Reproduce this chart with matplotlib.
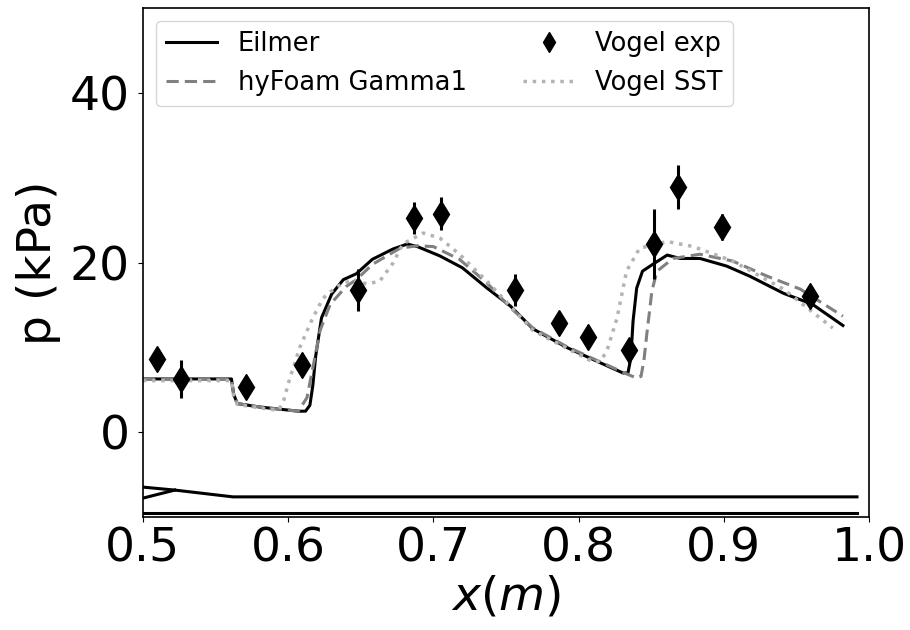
import numpy as np
import matplotlib
matplotlib.use("Agg")
import matplotlib.pyplot as plt

# Vogel experiment (x [m], p [kPa], error [kPa])
exp_x = [0.5096, 0.526, 0.571, 0.6095, 0.648, 0.6866, 0.705, 0.756,
         0.7865, 0.8065, 0.8347, 0.852, 0.8685, 0.8988, 0.959]
exp_p = [8.7, 6.3, 5.3, 8.0, 16.8, 25.3, 25.8, 16.8,
         12.9, 11.3, 9.7, 22.2, 28.9, 24.2, 16.1]
exp_err = [1.3, 2.2, 0.0, 1.3, 2.5, 1.9, 2.0, 1.9,
           1.3, 0.0, 1.4, 4.1, 2.6, 1.5, 0.0]

# Eilmer
eil_x = [0.5, 0.561, 0.5625, 0.565, 0.58, 0.607, 0.612, 0.615, 0.617, 0.619, 0.623,
         0.630, 0.638, 0.647, 0.658, 0.672, 0.682, 0.689, 0.7045, 0.720,
         0.737, 0.753, 0.7686, 0.792, 0.815, 0.8306, 0.834, 0.836, 0.8375,
         0.840, 0.844, 0.851, 0.861, 0.870, 0.8836, 0.902, 0.918, 0.941,
         0.961, 0.982]
eil_p = [6.3, 6.3, 4.5, 3.4, 3.0, 2.5, 2.5, 3.2, 5.5, 9.0, 13.5,
         16.3, 18.0, 18.7, 20.4, 21.6, 22.2, 21.9, 20.8, 19.4,
         17.0, 14.9, 12.2, 10.0, 8.2, 7.0, 7.0, 8.8, 13.1,
         17.0, 19.0, 19.8, 20.9, 20.5, 20.5, 19.6, 18.4, 16.4,
         15.1, 12.6]

# hyFoam Gamma1
hy_x = [0.5, 0.561, 0.5625, 0.565, 0.58, 0.607, 0.613, 0.617, 0.622, 0.629,
        0.640, 0.647, 0.658, 0.677, 0.689, 0.700, 0.718, 0.737, 0.753,
        0.7686, 0.792, 0.815, 0.833, 0.840, 0.843, 0.845, 0.847, 0.8505,
        0.854, 0.865, 0.8836, 0.906, 0.930, 0.9525, 0.982]
hy_p = [6.3, 6.3, 4.5, 3.4, 3.0, 2.5, 4.1, 7.6, 12.0, 15.1,
        17.2, 18.0, 19.8, 21.7, 22.0, 21.9, 20.4, 17.6, 14.7,
        12.3, 10.1, 8.3, 6.9, 6.4, 6.6, 8.5, 11.6, 16.7,
        19.0, 20.5, 21.0, 20.2, 18.4, 16.9, 13.7]

# Vogel SST
sst_x = [0.5, 0.561, 0.5625, 0.565, 0.58, 0.593, 0.5964, 0.600, 0.608, 0.617,
         0.624, 0.6336, 0.6446, 0.654, 0.663, 0.672, 0.679, 0.693, 0.7045,
         0.718, 0.737, 0.753, 0.7686, 0.792, 0.81, 0.815, 0.8195, 0.8265,
         0.833, 0.842, 0.861, 0.879, 0.906, 0.941, 0.975]
sst_p = [6.1, 6.1, 4.3, 3.3, 2.9, 2.6, 3.4, 5.7, 10.0, 13.5,
         15.8, 17.2, 18.0, 17.5, 17.8, 19.9, 22.2, 23.5, 22.9,
         21.0, 17.8, 14.9, 12.0, 9.9, 8.3, 8.4, 9.6, 13.5,
         19.0, 21.7, 22.5, 21.9, 20.2, 16.9, 12.3]

# geometry outline (scaled, drawn under the data)
geo_top_x = [0.5, 0.522, 0.562, 0.9917]
geo_top_y = [-6.45, -6.8, -7.6, -7.6]
geo_low_x = [0.5, 0.522]
geo_low_y = [-7.75, -6.8]
geo_base_x = [0.5, 0.9917]
geo_base_y = [-9.45, -9.45]

fig, ax = plt.subplots(figsize=(9.1, 6.3), dpi=100)

l1, = ax.plot(eil_x, eil_p, color='black', lw=2.2, label='Eilmer')
l2, = ax.plot(hy_x, hy_p, color='0.5', ls='--', lw=2.2, dashes=(4, 2), label='hyFoam Gamma1')
l4, = ax.plot(sst_x, sst_p, color='0.7', ls=':', lw=2.5, label='Vogel SST')
ax.errorbar(exp_x, exp_p, yerr=exp_err, fmt='none', ecolor='black',
            elinewidth=2.2, capsize=0, zorder=4)
l3, = ax.plot(exp_x, exp_p, 'd', color='black', ms=13, label='Vogel exp', zorder=5)

ax.plot(geo_top_x, geo_top_y, color='black', lw=2.2)
ax.plot(geo_low_x, geo_low_y, color='black', lw=2.2)
ax.plot(geo_base_x, geo_base_y, color='black', lw=2.2)

ax.set_xlim(0.5, 1.0)
ax.set_ylim(-10, 50)
ax.set_xticks([0.5, 0.6, 0.7, 0.8, 0.9, 1.0])
ax.set_yticks([0, 20, 40])
ax.tick_params(labelsize=34)
ax.tick_params(axis='y', pad=6)
ax.set_xlabel('$x(m)$', fontsize=34, labelpad=2)
ax.set_ylabel('p (kPa)', fontsize=34, labelpad=6)
for s in ax.spines.values():
    s.set_linewidth(1.2)

ax.legend([l1, l2, l3, l4], ['Eilmer', 'hyFoam Gamma1', 'Vogel exp', 'Vogel SST'],
          loc='upper left', ncol=2, fontsize=18.5, columnspacing=2.2, markerscale=0.8)

plt.subplots_adjust(left=0.157, right=0.955, top=0.987, bottom=0.179)
plt.savefig('out.png', dpi=100)
